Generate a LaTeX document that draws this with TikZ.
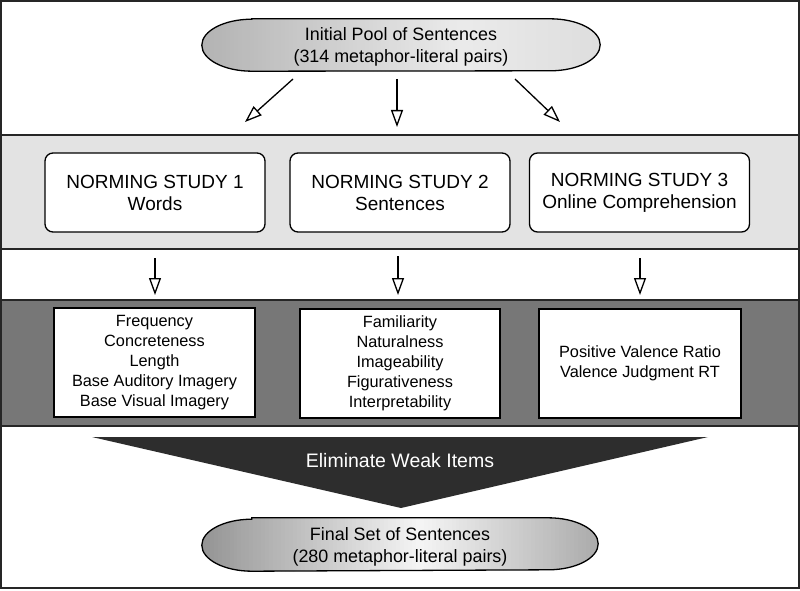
\documentclass[tikz,border=0pt]{standalone}
\usepackage{fontspec}
\setmainfont{Liberation Sans}
\usetikzlibrary{arrows.meta,calc}
\definecolor{lightband}{HTML}{E3E3E3}
\definecolor{darkband}{HTML}{777777}
\definecolor{tricol}{HTML}{2D2D2D}
\pgfdeclarelayer{bands}
\pgfdeclarelayer{pills}
\pgfsetlayers{bands,pills,main}
\newcommand{\pillpath}[1]{([xshift=50pt]#1.north west) -- ([xshift=-50pt]#1.north east)
    arc[start angle=90, end angle=-90, x radius=50pt, y radius=26pt]
    -- ([xshift=50pt]#1.south west)
    arc[start angle=270, end angle=90, x radius=50pt, y radius=26pt] -- cycle}
% #1 node, #2 left %, #3 peak %, #4 peak position, #5 right %
\newcommand{\drawpill}[5]{%
  \begin{pgfonlayer}{pills}
  \begin{scope}
    \clip \pillpath{#1};
    \foreach \i in {0,...,99} {
      \pgfmathsetmacro{\tpos}{(\i+0.5)/100}
      \pgfmathsetmacro{\val}{\tpos<#4 ? #2+(#3-#2)*\tpos/#4 : #3+(#5-#3)*(\tpos-#4)/(1-#4)}
      \fill[black!\val] ($(#1.north west)!{\i/100}!(#1.north east)+(0,-2)$)
        rectangle ($(#1.south west)!{(\i+1.3)/100}!(#1.south east)+(0,2)$);
    }
  \end{scope}
  \draw[line width=1.3pt] \pillpath{#1};
  \end{pgfonlayer}}
\begin{document}
\begin{tikzpicture}[x=1pt, y=-1pt,
  frameline/.style={line width=1.8pt, draw=black!85},
  studybox/.style={draw, line width=1.3pt, fill=white, rounded corners=8pt,
    minimum width=220pt, minimum height=79pt, align=center, inner sep=0pt,
    font=\fontsize{19}{22}\selectfont},
  measbox/.style={draw, line width=1.6pt, fill=white, minimum width=201pt,
    minimum height=109pt, align=center, inner sep=0pt,
    font=\fontsize{16.3}{20}\selectfont},
  pilltext/.style={minimum width=398pt, minimum height=52pt, inner sep=0pt,
    align=center, font=\fontsize{17.9}{22}\selectfont},
  openarrow/.style={line width=1.3pt,
    -{Triangle[open, length=17pt, width=12pt, line width=1.3pt]}},
]
\useasboundingbox (0,0) rectangle (800,591);
\begin{pgfonlayer}{bands}
  \fill[white] (0,0) rectangle (800,591);
  \fill[lightband] (0,135) rectangle (800,249);
  \fill[darkband] (0,300) rectangle (800,426);
\end{pgfonlayer}
\draw[frameline] (0,135) -- (800,135);
\draw[frameline] (0,249) -- (800,249);
\draw[frameline] (0,300) -- (800,300);
\draw[frameline] (0,426) -- (800,426);
\draw[frameline] (1,1) rectangle (799,588);

% top pill
\node[pilltext] (pool) at (401,45) {};
\drawpill{pool}{30}{8}{0.65}{13}
\node[pilltext] (pooltext) at (401,47) {Initial Pool of Sentences\\(314 metaphor-literal pairs)};

% norming studies
\node[studybox] (ns1) at (155,192.5) {NORMING STUDY 1\\Words};
\node[studybox] (ns2) at (400,192.5) {NORMING STUDY 2\\Sentences};
\node[studybox] (ns3) at (639.5,192.5) {NORMING STUDY 3\\Online Comprehension};

% measures
\node[measbox] (m1) at (154.5,362.5) {Frequency\\Concreteness\\Length\\Base Auditory Imagery\\Base Visual Imagery};
\node[measbox, minimum width=200pt] (m2) at (400,363.5) {Familiarity\\Naturalness\\Imageability\\Figurativeness\\Interpretability};
\node[measbox, minimum width=202pt] (m3) at (640,363.5) {Positive Valence Ratio\\Valence Judgment RT};

% top arrows
\coordinate (a1s) at (293,79);  \coordinate (a1e) at (245,122);
\coordinate (a2s) at (397,79);  \coordinate (a2e) at (397,127);
\coordinate (a3s) at (515,79);  \coordinate (a3e) at (560,122);
\draw[openarrow] (a1s) -- (a1e);
\draw[openarrow] (a2s) -- (a2e);
\draw[openarrow] (a3s) -- (a3e);

% middle arrows
\coordinate (b1s) at (155,258);  \coordinate (b1e) at (155,295);
\coordinate (b2s) at (398,256);  \coordinate (b2e) at (398,295);
\coordinate (b3s) at (640,258);  \coordinate (b3e) at (640,295);
\draw[openarrow] (b1s) -- (b1e);
\draw[openarrow] (b2s) -- (b2e);
\draw[openarrow] (b3s) -- (b3e);

% funnel triangle
\coordinate (tl) at (92,437);
\coordinate (tr) at (708,437);
\coordinate (tp) at (401,508);
\fill[tricol] (tl) -- (tr) -- (tp) -- cycle;
\node[text=white, font=\fontsize{19.5}{22}\selectfont] (elim) at (400,461) {Eliminate Weak Items};

% bottom pill
\node[pilltext, minimum width=396pt, minimum height=53pt] (final) at (400,544.5) {};
\drawpill{final}{42}{4}{0.55}{33}
\node[pilltext, minimum width=396pt, minimum height=53pt] (finaltext) at (400,546.5) {Final Set of Sentences\\(280 metaphor-literal pairs)};
\end{tikzpicture}
\end{document}
